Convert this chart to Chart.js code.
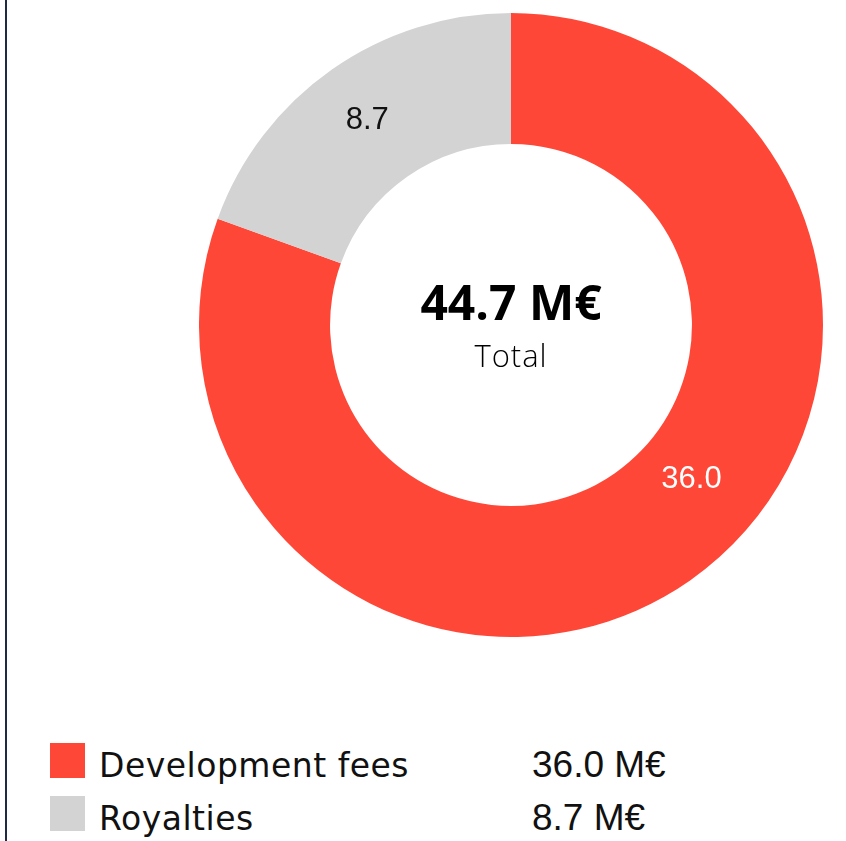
<!DOCTYPE html>
<html>
<head>
<meta charset="utf-8">
<script src="https://cdn.jsdelivr.net/npm/chart.js@4.4.0/dist/chart.umd.min.js"></script>
<style>
  html, body { margin: 0; padding: 0; background: #fff; }
  body { width: 846px; height: 841px; position: relative; overflow: hidden; }
  .barra { position: absolute; left: 5px; top: 0; width: 2px; height: 841px; background: #1f2a44; }
  .grafico { position: absolute; left: 199px; top: 13px; width: 624px; height: 624px; }
  .legenda { position: absolute; left: 50px; top: 743px; }
  .linha { position: relative; height: 53px; }
  .cor { position: absolute; left: 0; top: 0; width: 35px; height: 35px; }
  .nome { position: absolute; left: 49px; top: 5px; font-size: 33px; line-height: 35px; color: #111;
          white-space: nowrap; font-family: 'DejaVu Sans', sans-serif; letter-spacing: 0.5px; }
  .valor { position: absolute; left: 482px; top: 4px; font-size: 37px; line-height: 35px; color: #111;
           white-space: nowrap; font-family: 'Liberation Sans', Arial, sans-serif; }
</style>
</head>
<body>
<div class="barra"></div>
<div class="grafico"><canvas id="meuGrafico"></canvas></div>
<div class="legenda" id="legenda"></div>
<script>
// Dados do gráfico
var categorias = ['Development fees', 'Royalties'];
var valores = [36.0, 8.7];
var cores = ['#ff4737', '#d3d3d3'];
var coresRotulos = ['#ffffff', '#111111'];
var unidade = 'M€';
var textoTotal = 'Total';

var total = valores.reduce((a, b) => a + b, 0);

// Plugin para o texto no centro e os rótulos de valor
var pluginTextos = {
    id: 'textos',
    afterDatasetsDraw(chart, args, opts) {
        var ctx = chart.ctx;
        var meta = chart.getDatasetMeta(0);
        ctx.save();
        ctx.textAlign = 'center';
        ctx.textBaseline = 'middle';
        ctx.font = '31px "Liberation Sans", Arial, sans-serif';
        meta.data.forEach((arc, i) => {
            var p = arc.getProps(['x', 'y', 'startAngle', 'endAngle', 'innerRadius', 'outerRadius']);
            var f = opts.posicao[i];
            var ang = p.startAngle + (p.endAngle - p.startAngle) * f;
            var r = p.innerRadius + (p.outerRadius - p.innerRadius) * opts.raio[i];
            ctx.fillStyle = coresRotulos[i];
            ctx.fillText(valores[i].toFixed(1), p.x + Math.cos(ang) * r, p.y + Math.sin(ang) * r);
        });
        var c = meta.data[0];
        ctx.fillStyle = '#000';
        ctx.textBaseline = 'alphabetic';
        ctx.font = 'bold 48px "Open Sans", sans-serif';
        ctx.fillText(total.toFixed(1) + ' ' + unidade, c.x, c.y - 5);
        ctx.font = '300 31px "Open Sans", sans-serif';
        ctx.letterSpacing = '1px';
        ctx.fillText(textoTotal, c.x, c.y + 42);
        ctx.restore();
    }
};

var ctx = document.getElementById('meuGrafico').getContext('2d');
new Chart(ctx, {
    type: 'doughnut',
    data: {
        labels: categorias,
        datasets: [{
            data: valores,
            backgroundColor: cores,
            borderWidth: 0
        }]
    },
    options: {
        responsive: true,
        maintainAspectRatio: false,
        animation: false,
        cutout: '58%',
        layout: { padding: 0 },
        plugins: {
            legend: { display: false },
            tooltip: { enabled: false },
            textos: { posicao: [0.45, 0.5], raio: [0.43, 0.53] }
        }
    },
    plugins: [pluginTextos]
});

// Legenda em HTML
var leg = document.getElementById('legenda');
categorias.forEach((nome, i) => {
    var linha = document.createElement('div');
    linha.className = 'linha';
    linha.innerHTML = '<div class="cor" style="background:' + cores[i] + '"></div>' +
        '<div class="nome">' + nome + '</div>' +
        '<div class="valor">' + valores[i].toFixed(1) + ' ' + unidade + '</div>';
    leg.appendChild(linha);
});
</script>
</body>
</html>
